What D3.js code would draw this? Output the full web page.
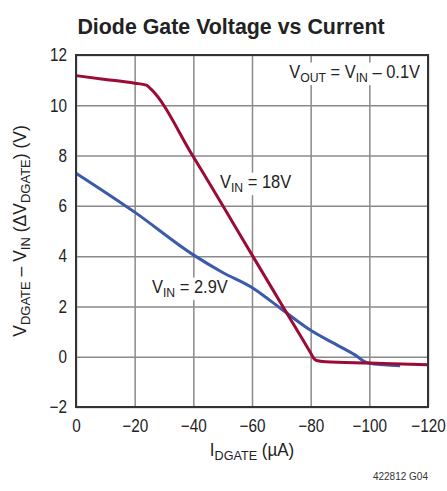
<!DOCTYPE html>
<html>
<head>
<meta charset="utf-8">
<script src="https://cdn.jsdelivr.net/npm/d3@7"></script>
<style>
  body { margin: 0; background: white; }
  svg { display: block; font-family: "Liberation Sans", Arial, sans-serif; }
</style>
</head>
<body>
<div id="chart-area"></div>
<script>
// current axis (uA) and the two measured curves
var xTicks = [0, -20, -40, -60, -80, -100, -120];
var yTicks = [-2, 0, 2, 4, 6, 8, 10, 12];

var vin18Current = [0, -10, -20, -24, -25.5, -40, -60, -70, -80, -81, -82, -85, -100, -120];
var vin18Volts   = [11.18, 11.03, 10.88, 10.8, 10.65, 7.95, 4.05, 2.1, 0.15, -0.05, -0.15, -0.2, -0.25, -0.32];

var vin29Current = [0, -20, -40, -50, -60, -66, -70, -80, -90, -96, -98, -100, -105, -110.5];
var vin29Volts   = [7.3, 5.75, 4.05, 3.35, 2.75, 2.25, 1.9, 1.05, 0.4, 0.0, -0.17, -0.26, -0.32, -0.36];

var width = 447, height = 491;
var margin = {top: 55, right: 19, bottom: 84, left: 76};
var w = width - margin.left - margin.right;
var h = height - margin.top - margin.bottom;

var svg = d3.select("#chart-area").append("svg")
  .attr("width", width)
  .attr("height", height);

var g = svg.append("g")
  .attr("transform", "translate(" + margin.left + "," + margin.top + ")");

var x = d3.scaleLinear().domain([0, -120]).range([0, w]);
var y = d3.scaleLinear().domain([-2, 12]).range([h, 0]);

// squeeze text horizontally to mimic the condensed face
function narrow(sel, k) {
  sel.each(function() {
    var t = d3.select(this);
    var px = +(t.attr("x") || 0);
    var old = t.attr("transform") || "";
    t.attr("transform", old + " translate(" + px + ",0) scale(" + k + ",1) translate(" + (-px) + ",0)");
  });
}

// grid + tick labels via axes
var xAxis = g.append("g")
  .attr("transform", "translate(0," + h + ")")
  .call(d3.axisBottom(x).tickValues(xTicks).tickSize(-h).tickPadding(12));
var yAxis = g.append("g")
  .call(d3.axisLeft(y).tickValues(yTicks).tickSize(-w).tickPadding(9));

[xAxis, yAxis].forEach(function(a) {
  a.select(".domain").remove();
  a.selectAll("line").attr("stroke", "#8a8a8a").attr("stroke-width", 1.5);
  a.selectAll("text")
    .attr("fill", "#222")
    .style("font-size", "18px")
    .style("font-family", "'Liberation Sans', Arial, sans-serif")
    .call(narrow, 0.85);
});

// text labels with white boxes
function subLabel(parent, px, py, parts, anchor) {
  var t = parent.append("text")
    .attr("x", px).attr("y", py)
    .attr("text-anchor", anchor || "start")
    .attr("fill", "#222")
    .style("font-size", "17.5px");
  parts.forEach(function(p) {
    var s = t.append("tspan").text(p[0]);
    if (p[1]) s.style("font-size", "13px").attr("dy", 4);
    else if (p[2]) s.attr("dy", -4);
  });
  t.call(narrow, 0.94);
  return t;
}

function boxed(t) {
  var b = t.node().getBBox();
  t.node().parentNode.insertBefore(
    d3.create("svg:rect")
      .attr("x", b.x - 3).attr("y", b.y)
      .attr("width", b.width + 6).attr("height", b.height)
      .attr("transform", t.attr("transform"))
      .attr("fill", "white").node(),
    t.node());
}

var labels = g.append("g");
boxed(subLabel(labels, 344, 23, [["V"], ["OUT", true], [" = V", false, true], ["IN", true], [" \u2013 0.1V", false, true]], "end"));
boxed(subLabel(labels, 144, 133, [["V"], ["IN", true], [" = 18V", false, true]]));
boxed(subLabel(labels, 76, 238, [["V"], ["IN", true], [" = 2.9V", false, true]]));

// curves
var line = d3.line()
  .x(function(d) { return x(d[0]); })
  .y(function(d) { return y(d[1]); })
  .curve(d3.curveMonotoneX);

g.append("path")
  .datum(d3.zip(vin29Current, vin29Volts))
  .attr("fill", "none")
  .attr("stroke", "#3b5aa9")
  .attr("stroke-width", 3)
  .attr("d", line);

g.append("path")
  .datum(d3.zip(vin18Current, vin18Volts))
  .attr("fill", "none")
  .attr("stroke", "#9b0b36")
  .attr("stroke-width", 3)
  .attr("d", line);

// frame
g.append("rect")
  .attr("width", w).attr("height", h)
  .attr("fill", "none")
  .attr("stroke", "#333")
  .attr("stroke-width", 2);

// titles
svg.append("text")
  .attr("x", 231).attr("y", 34)
  .attr("text-anchor", "middle")
  .attr("fill", "#222")
  .style("font-size", "23px")
  .style("font-weight", "bold")
  .text("Diode Gate Voltage vs Current")
  .call(narrow, 0.93);

var xl = svg.append("text")
  .attr("x", margin.left + w / 2).attr("y", 456)
  .attr("text-anchor", "middle")
  .attr("fill", "#222")
  .style("font-size", "17.5px");
xl.append("tspan").text("I");
xl.append("tspan").text("DGATE").style("font-size", "13px").attr("dy", 4);
xl.append("tspan").text(" (\u00b5A)").attr("dy", -4);
xl.call(narrow, 0.97);

var yl = svg.append("text")
  .attr("transform", "translate(26," + (margin.top + h / 2) + ") rotate(-90) scale(1,1)")
  .attr("text-anchor", "middle")
  .attr("fill", "#222")
  .style("font-size", "17.5px");
yl.append("tspan").text("V");
yl.append("tspan").text("DGATE").style("font-size", "13px").attr("dy", 4);
yl.append("tspan").text(" \u2013 V").attr("dy", -4);
yl.append("tspan").text("IN").style("font-size", "13px").attr("dy", 4);
yl.append("tspan").text(" (\u0394V").attr("dy", -4);
yl.append("tspan").text("DGATE").style("font-size", "13px").attr("dy", 4);
yl.append("tspan").text(") (V)").attr("dy", -4);

svg.append("text")
  .attr("x", 428).attr("y", 480)
  .attr("text-anchor", "end")
  .attr("fill", "#333")
  .style("font-size", "10px")
  .text("422812 G04");
</script>
</body>
</html>
